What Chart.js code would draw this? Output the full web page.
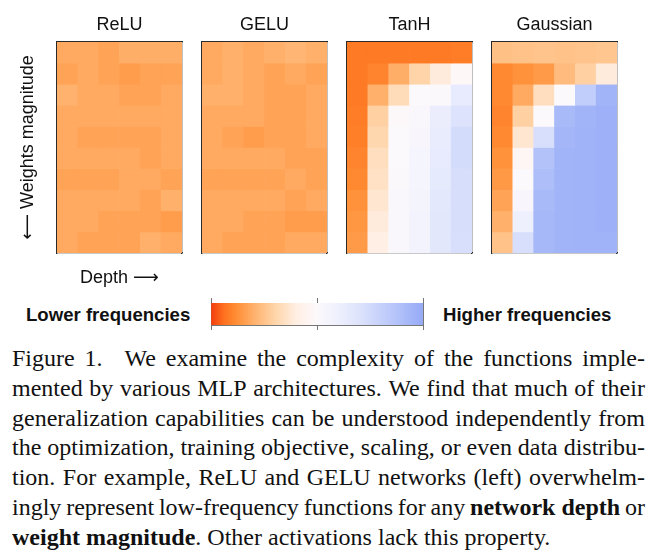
<!DOCTYPE html>
<html><head><meta charset="utf-8">
<script src="https://cdn.jsdelivr.net/npm/chart.js@4/dist/chart.umd.min.js"></script>
<style>
html,body{margin:0;padding:0;background:#fff;width:652px;height:559px;overflow:hidden;}
#wrap{position:relative;width:652px;height:559px;}
canvas{position:absolute;}
.lab{position:absolute;font-family:"Liberation Sans",Arial,sans-serif;font-weight:bold;font-size:18.6px;color:#111;white-space:nowrap;line-height:22px;}
.cap{position:absolute;left:12px;top:344px;width:633px;font-family:"Liberation Serif","Times New Roman",serif;font-size:24px;line-height:29.8px;color:#111;}
.cap .ln{display:flex;justify-content:space-between;white-space:nowrap;}
.cap .last{white-space:nowrap;}
</style></head>
<body><div id="wrap">
<canvas id="p0" width="184" height="300" style="left:0px;top:0px;width:184px;height:300px"></canvas>
<canvas id="p1" width="129" height="255" style="left:200px;top:0px;width:129px;height:255px"></canvas>
<canvas id="p2" width="129" height="255" style="left:345px;top:0px;width:129px;height:255px"></canvas>
<canvas id="p3" width="129" height="255" style="left:490px;top:0px;width:129px;height:255px"></canvas>
<canvas id="cb" width="225" height="50" style="left:205px;top:290px;width:225px;height:50px"></canvas>
<div class="lab" style="left:26px;top:304px">Lower frequencies</div>
<div class="lab" style="left:443px;top:304px">Higher frequencies</div>
<div class="cap" id="cap"></div>
</div>
<script>
// ---- caption lines (justified); **...** = bold
const captionLines = [
  'Figure 1.&nbsp;&nbsp; We examine the complexity of the functions imple-',
  'mented by various MLP architectures. We find that much of their',
  'generalization capabilities can be understood independently from',
  'the optimization, training objective, scaling, or even data distribu-',
  'tion. For example, ReLU and GELU networks (left) overwhelm-',
  'ingly represent low-frequency functions for any **network depth** or'
];
const captionLast = '**weight magnitude**. Other activations lack this property.';

// ---- data: rows = weights magnitude (top→bottom), cols = depth (left→right)
// value 0 = lowest frequency (orange), 1 = highest frequency (blue)
const depthLabels = ['1','2','3','4','5','6'];
const panelTitles = ['ReLU','GELU','TanH','Gaussian'];
const reluValues = [
  [0.185,0.185,0.17,0.195,0.195,0.195],
  [0.17,0.185,0.17,0.155,0.17,0.17],
  [0.205,0.185,0.185,0.17,0.17,0.185],
  [0.185,0.185,0.185,0.185,0.185,0.185],
  [0.185,0.17,0.17,0.17,0.17,0.185],
  [0.185,0.185,0.185,0.185,0.17,0.185],
  [0.17,0.17,0.17,0.185,0.185,0.17],
  [0.185,0.185,0.185,0.185,0.17,0.2],
  [0.185,0.185,0.17,0.17,0.17,0.155],
  [0.185,0.17,0.17,0.17,0.2,0.185]
];
const geluValues = [
  [0.185,0.2,0.185,0.2,0.215,0.2],
  [0.185,0.2,0.185,0.17,0.185,0.17],
  [0.2,0.2,0.185,0.17,0.17,0.185],
  [0.185,0.185,0.185,0.17,0.17,0.185],
  [0.185,0.17,0.155,0.17,0.17,0.185],
  [0.185,0.185,0.185,0.185,0.17,0.17],
  [0.17,0.17,0.17,0.17,0.185,0.17],
  [0.185,0.185,0.185,0.185,0.17,0.185],
  [0.185,0.185,0.17,0.17,0.155,0.155],
  [0.185,0.17,0.17,0.17,0.185,0.185]
];
const tanhValues = [
  [0.08,0.08,0.08,0.08,0.08,0.085],
  [0.08,0.10,0.195,0.30,0.39,0.48],
  [0.08,0.20,0.33,0.50,0.51,0.64],
  [0.085,0.29,0.49,0.52,0.62,0.70],
  [0.09,0.31,0.50,0.53,0.63,0.74],
  [0.10,0.34,0.50,0.55,0.64,0.74],
  [0.11,0.35,0.51,0.55,0.65,0.73],
  [0.13,0.37,0.52,0.56,0.66,0.73],
  [0.14,0.39,0.52,0.57,0.67,0.73],
  [0.15,0.41,0.52,0.57,0.67,0.72]
];
const gaussianValues = [
  [0.245,0.25,0.255,0.25,0.255,0.26],
  [0.11,0.13,0.15,0.23,0.29,0.39],
  [0.11,0.185,0.34,0.50,0.82,0.95],
  [0.10,0.29,0.50,0.92,0.95,0.97],
  [0.11,0.37,0.72,0.94,0.96,0.97],
  [0.13,0.47,0.88,0.95,0.96,0.97],
  [0.145,0.50,0.90,0.95,0.96,0.97],
  [0.17,0.53,0.92,0.95,0.96,0.97],
  [0.20,0.60,0.93,0.95,0.96,0.97],
  [0.25,0.72,0.93,0.95,0.96,0.96]
];
const panelValues = [reluValues, geluValues, tanhValues, gaussianValues];

// colour map (diverging orange → white → blue)
const cmapPos = [0.00,0.06,0.12,0.20,0.30,0.40,0.50,0.60,0.70,0.80,0.90,1.00];
const cmapRGB = [[242,62,14],[255,112,30],[255,142,52],[255,176,106],[255,212,168],[255,238,226],
                 [252,249,252],[238,240,253],[221,227,252],[198,209,251],[174,190,249],[150,170,247]];
const colorbarTicks = [0, 0.5, 1];

// ---- caption
function fmt(s){ return s.replace(/\*\*(.+?)\*\*/g, '<b>$1</b>'); }
const cap = document.getElementById('cap');
captionLines.forEach(line => {
  const d = document.createElement('div');
  d.className = 'ln';
  const tokens = line.match(/\*\*.+?\*\*|\S+/g);
  d.innerHTML = tokens.map(t => '<span>' + fmt(t) + '</span>').join('');
  cap.appendChild(d);
});
const dl = document.createElement('div');
dl.className = 'last';
dl.innerHTML = fmt(captionLast);
cap.appendChild(dl);

function cmap(v){
  v = Math.max(0, Math.min(1, v));
  for (let i = 1; i < cmapPos.length; i++){
    if (v <= cmapPos[i]){
      const t = (v - cmapPos[i-1]) / (cmapPos[i] - cmapPos[i-1]);
      const a = cmapRGB[i-1], b = cmapRGB[i];
      const c = a.map((x,k)=>Math.round(x + (b[k]-x)*t));
      return `rgb(${c[0]},${c[1]},${c[2]})`;
    }
  }
  const c = cmapRGB[cmapRGB.length-1];
  return `rgb(${c[0]},${c[1]},${c[2]})`;
}

const SANS = "'Liberation Sans', Arial, 'DejaVu Sans', sans-serif";
const BORDER = {display:true, color:'#2a2a2a', width:1.3};
function hiddenAxis(extra){
  return Object.assign({display:true, ticks:{display:false}, grid:{display:false, drawTicks:false}, border:BORDER}, extra);
}

function makePanel(id, title, values, withAxisTitles){
  const nRows = values.length;
  const datasets = values.map((row, r) => ({
    data: row.map(() => [r, r + 1]),
    backgroundColor: row.map(cmap),
    borderWidth: 0,
    barPercentage: 1,
    categoryPercentage: 1,
    grouped: false
  }));
  const xTitle = withAxisTitles ? {display:true, text:'Depth \u27F6', color:'#111', font:{family:SANS, size:18}, padding:{top:14.2, bottom:11.2}} : {display:false};
  const yTitle = withAxisTitles ? {display:true, text:'\u27F5 Weights magnitude', color:'#111', font:{family:SANS, size:18}, padding:{top:17.2, bottom:18.2}} : {display:false};
  new Chart(document.getElementById(id), {
    type:'bar',
    data:{labels: depthLabels, datasets},
    options:{
      responsive:false, animation:false, devicePixelRatio:1,
      layout:{padding: withAxisTitles ? {left:0,right:2,top:0,bottom:0} : {left:2,right:2,top:0,bottom:2}},
      plugins:{
        legend:{display:false}, tooltip:{enabled:false},
        title:{display:true, text:title, color:'#111', fullSize:false, font:{family:SANS, size:18, weight:'normal'}, padding:{top:14.7, bottom:5.7}}
      },
      scales:{
        x: hiddenAxis({type:'category', position:'bottom', offset:true, title:xTitle}),
        x2: hiddenAxis({type:'category', position:'top', labels: depthLabels, offset:true}),
        y: hiddenAxis({type:'linear', position:'left', min:0, max:nRows, reverse:true, title:yTitle}),
        y2: hiddenAxis({type:'linear', position:'right', min:0, max:nRows, reverse:true})
      }
    }
  });
}

panelTitles.forEach((t, i) => makePanel('p' + i, t, panelValues[i], i === 0));

// colour bar
function gradientFill(ctx){
  const chart = ctx.chart, a = chart.chartArea;
  if (!a) return cmap(0.5);
  const g = chart.ctx.createLinearGradient(a.left, 0, a.right, 0);
  cmapPos.forEach((p, i) => g.addColorStop(p, `rgb(${cmapRGB[i].join(',')})`));
  return g;
}
const cbTickAxis = (pos) => ({
  type:'linear', position:pos, min:0, max:1, display:true,
  afterBuildTicks: (s) => { s.ticks = colorbarTicks.map(v => ({value:v})); },
  ticks:{display:false},
  grid:{display:true, drawOnChartArea:false, drawTicks:true, tickLength:5, color:'#777', tickColor:'#777', lineWidth:1},
  border:{display:true, color:'#777', width:1}
});
new Chart(document.getElementById('cb'), {
  type:'bar',
  data:{labels:[''], datasets:[{data:[[0,1]], backgroundColor:gradientFill, borderWidth:0, barPercentage:1, categoryPercentage:1}]},
  options:{
    indexAxis:'y', responsive:false, animation:false, devicePixelRatio:1,
    layout:{padding:{left:6,right:7,top:8,bottom:10}},
    plugins:{legend:{display:false}, tooltip:{enabled:false}},
    scales:{
      x: cbTickAxis('bottom'),
      x2: cbTickAxis('top'),
      y: {type:'category', position:'left', display:true, ticks:{display:false}, grid:{display:false, drawTicks:false}, border:{display:true, color:'#777', width:1}},
      y2: {type:'category', position:'right', labels:[''], display:true, ticks:{display:false}, grid:{display:false, drawTicks:false}, border:{display:true, color:'#777', width:1}}
    }
  }
});
</script>
</body></html>
